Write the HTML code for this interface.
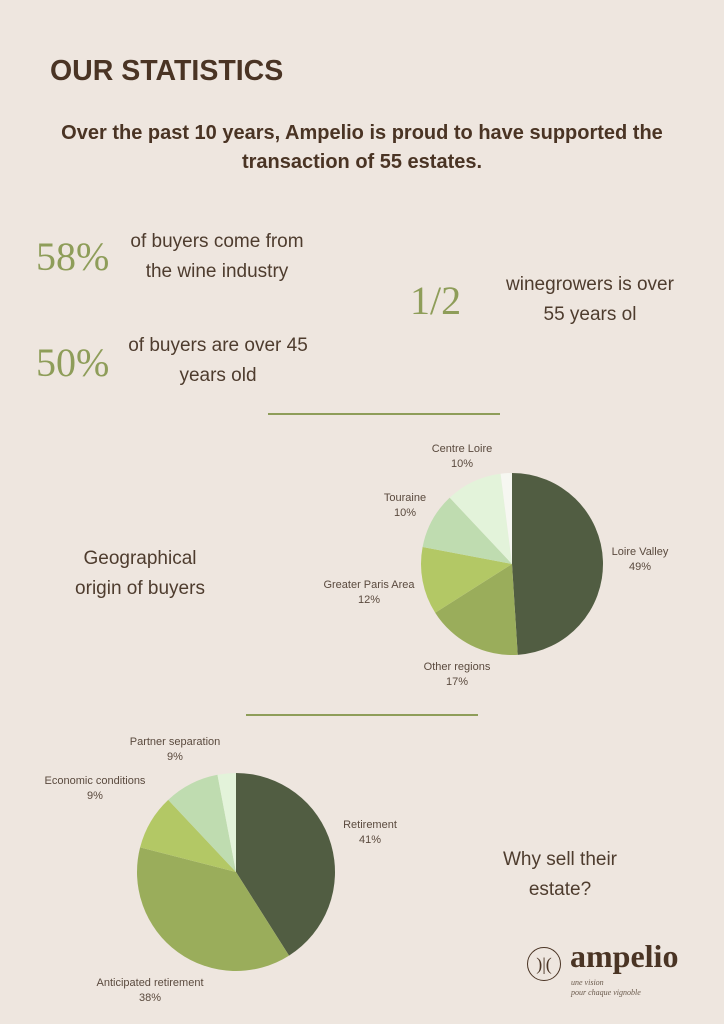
<!DOCTYPE html>
<html><head><meta charset="utf-8"><style>
body{margin:0;width:724px;height:1024px;background:#eee6df;font-family:"Liberation Sans",sans-serif;color:#4b3a2c;position:relative;overflow:hidden}
.a{position:absolute;white-space:nowrap}
.big{font-family:"Liberation Serif",serif;color:#8e9d59;font-size:40px}
.t{font-size:19px;color:#4e3c2e;text-align:center}
.l{font-size:11px;color:#5a4a3e;text-align:center;line-height:15px}
.hr{position:absolute;height:2px;background:#8e9d59}
</style></head><body>
<div class="a" style="left:50px;top:55px;font-size:28.5px;font-weight:bold;color:#4a3424">OUR STATISTICS</div>
<div class="a" style="left:0;width:724px;top:119px;font-size:20px;font-weight:bold;text-align:center;line-height:29px;color:#4a3424">Over the past 10 years, Ampelio is proud to have supported the<br>transaction of 55 estates.</div>
<div class="a big" style="left:36px;top:233px">58%</div>
<div class="a t" style="left:122px;top:227px;width:190px;line-height:30px">of buyers come from<br>the wine industry</div>
<div class="a big" style="left:36px;top:339px">50%</div>
<div class="a t" style="left:118px;top:331px;width:200px;line-height:30px">of buyers are over 45<br>years old</div>
<div class="a big" style="left:410px;top:277px">1/2</div>
<div class="a t" style="left:490px;top:270px;width:200px;line-height:30px">winegrowers is over<br>55 years ol</div>
<div class="hr" style="left:268px;top:413px;width:232px"></div>
<div class="a t" style="left:50px;top:544px;width:180px;line-height:30px">Geographical<br>origin of buyers</div>
<div class="hr" style="left:246px;top:714px;width:232px"></div>
<div class="a t" style="left:500px;top:845px;width:120px;line-height:30px">Why sell their<br>estate?</div>
<svg class="a" style="left:0;top:0" width="724" height="1024" id="s"></svg>
<div class="a l" style="left:410px;top:442px;width:104px">Centre Loire<br>10%</div>
<div class="a l" style="left:360px;top:491px;width:90px">Touraine<br>10%</div>
<div class="a l" style="left:305px;top:578px;width:128px">Greater Paris Area<br>12%</div>
<div class="a l" style="left:405px;top:660px;width:104px">Other regions<br>17%</div>
<div class="a l" style="left:600px;top:545px;width:80px">Loire Valley<br>49%</div>
<div class="a l" style="left:100px;top:735px;width:150px">Partner separation<br>9%</div>
<div class="a l" style="left:20px;top:774px;width:150px">Economic conditions<br>9%</div>
<div class="a l" style="left:320px;top:818px;width:100px">Retirement<br>41%</div>
<div class="a l" style="left:70px;top:976px;width:160px">Anticipated retirement<br>38%</div>
<div class="a" style="left:527px;top:947px;width:32px;height:32px;border:1.5px solid #4a3424;border-radius:50%;text-align:center;line-height:32px;font-family:'Liberation Serif',serif;font-size:18px;color:#4a3424">)|(</div>
<div class="a" style="left:570px;top:938px;font-family:'Liberation Serif',serif;font-size:32px;font-weight:bold;color:#4a3424">ampelio</div>
<div class="a" style="left:571px;top:978px;font-family:'Liberation Serif',serif;font-style:italic;font-size:8px;line-height:10px;color:#6a5a4c">une vision<br>pour chaque vignoble</div>
<script>
function pie(cx,cy,r,vals,cols){var s='',a=0;for(var i=0;i<vals.length;i++){var a2=a+vals[i]/100*2*Math.PI;var x1=cx+r*Math.sin(a),y1=cy-r*Math.cos(a),x2=cx+r*Math.sin(a2),y2=cy-r*Math.cos(a2);s+='<path d="M'+cx+' '+cy+'L'+x1+' '+y1+'A'+r+' '+r+' 0 '+(a2-a>Math.PI?1:0)+' 1 '+x2+' '+y2+'Z" fill="'+cols[i]+'"/>';a=a2;}return s;}
document.getElementById('s').innerHTML=pie(512,564,91,[49,17,12,10,10,2],['#515d42','#9aad5b','#b3c865','#bfdcb0','#e3f3da','#f6f7f1'])+pie(236,872,99,[41,38,9,9,3],['#515d42','#9aad5b','#b3c865','#bfdcb0','#e3f3da']);
</script>
</body></html>
